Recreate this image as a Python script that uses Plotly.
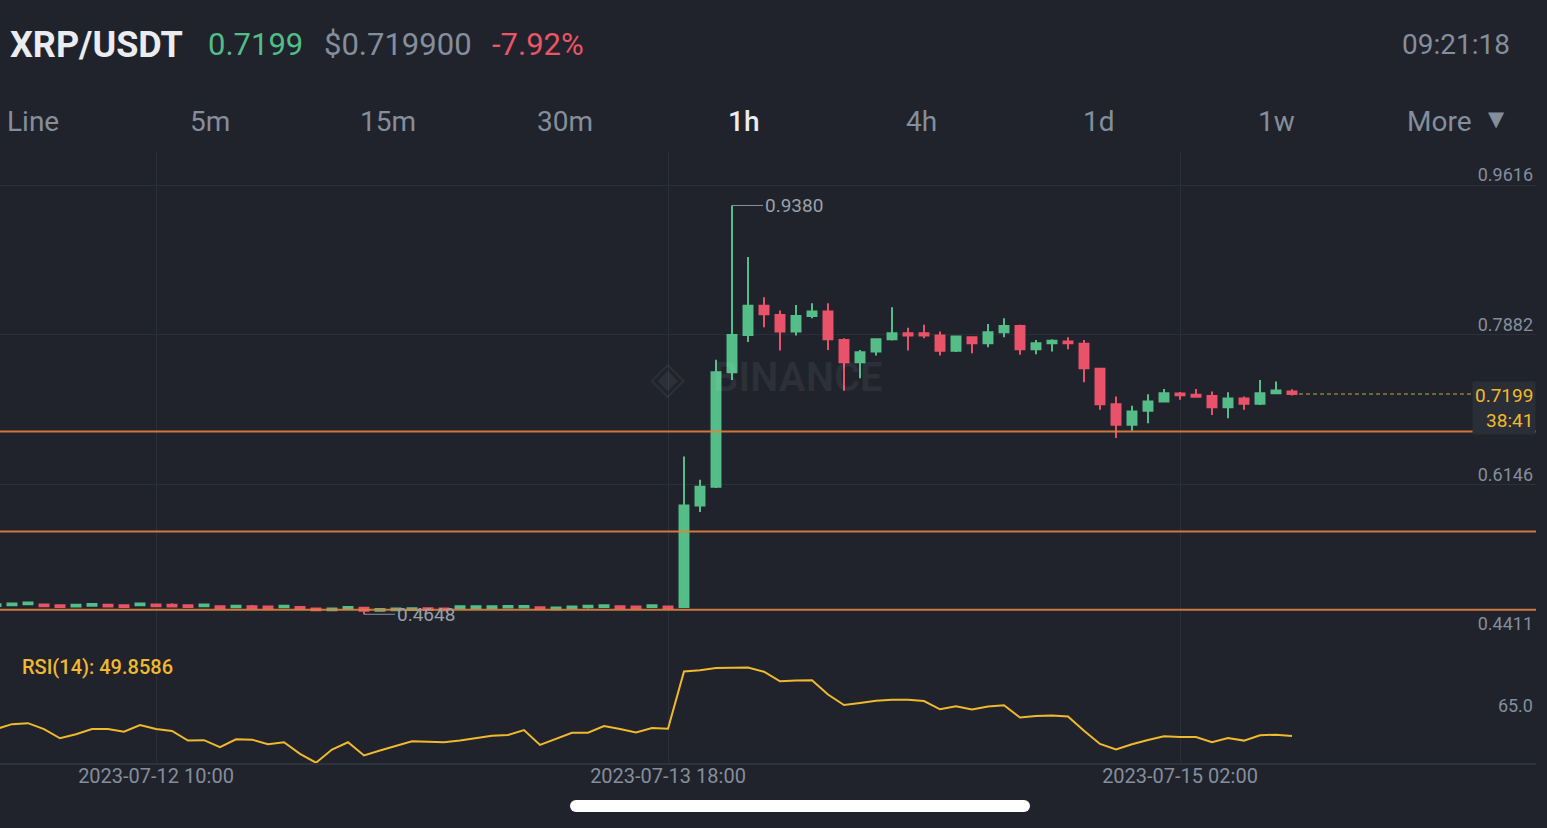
import pandas as pd
import plotly.graph_objects as go
from plotly.subplots import make_subplots

# hourly candles, 2023-07-12 00:00 .. 2023-07-15 09:00
times = pd.date_range("2023-07-12 00:00", periods=82, freq="h")

opens = [
    0.4745, 0.4752, 0.4763, 0.4760, 0.4753, 0.4737, 0.4748, 0.4757, 0.4753, 0.4752,
    0.4760, 0.4757, 0.4753, 0.4740, 0.4741, 0.4728, 0.4741, 0.4737, 0.4728, 0.4733,
    0.4714, 0.4694, 0.4713, 0.4723, 0.4690, 0.4694, 0.4698, 0.4718, 0.4714, 0.4721,
    0.4721, 0.4721, 0.4725, 0.4725, 0.4730, 0.4706, 0.4717, 0.4728, 0.4733, 0.4741,
    0.4737, 0.4733, 0.4737,
    0.4731, 0.5907, 0.6123, 0.7450, 0.7882, 0.8218, 0.8113, 0.7920, 0.8102, 0.8152,
    0.7824, 0.7566, 0.7689, 0.7832, 0.7902, 0.7902, 0.7874, 0.7697, 0.7855, 0.7786,
    0.7913, 0.7986, 0.7717, 0.7786, 0.7804, 0.7778, 0.7489, 0.7080, 0.6841, 0.7003,
    0.7110, 0.7203, 0.7188, 0.7176, 0.7045, 0.7145, 0.7084, 0.7207, 0.7226,
]
highs = [
    0.4769, 0.4776, 0.4787, 0.4764, 0.4757, 0.4761, 0.4772, 0.4761, 0.4757, 0.4776,
    0.4764, 0.4775, 0.4757, 0.4764, 0.4745, 0.4752, 0.4755, 0.4741, 0.4752, 0.4737,
    0.4718, 0.4718, 0.4737, 0.4728, 0.4714, 0.4718, 0.4722, 0.4722, 0.4718, 0.4745,
    0.4745, 0.4745, 0.4749, 0.4749, 0.4734, 0.4730, 0.4741, 0.4752, 0.4757, 0.4745,
    0.4741, 0.4757, 0.4741,
    0.6474, 0.6204, 0.7593, 0.9380, 0.8784, 0.8318, 0.8163, 0.8229, 0.8249, 0.8249,
    0.7844, 0.7708, 0.7836, 0.8202, 0.7966, 0.7998, 0.7920, 0.7870, 0.7860, 0.8009,
    0.8075, 0.7998, 0.7824, 0.7832, 0.7855, 0.7824, 0.7495, 0.7168, 0.7061, 0.7196,
    0.7257, 0.7222, 0.7257, 0.7226, 0.7219, 0.7168, 0.7361, 0.7342, 0.7254,
]
lows = [
    0.4741, 0.4748, 0.4759, 0.4736, 0.4729, 0.4733, 0.4744, 0.4733, 0.4729, 0.4748,
    0.4736, 0.4730, 0.4729, 0.4736, 0.4717, 0.4724, 0.4712, 0.4702, 0.4724, 0.4709,
    0.4690, 0.4690, 0.4709, 0.4648, 0.4686, 0.4690, 0.4694, 0.4694, 0.4690, 0.4717,
    0.4717, 0.4717, 0.4721, 0.4721, 0.4706, 0.4702, 0.4713, 0.4715, 0.4729, 0.4717,
    0.4713, 0.4729, 0.4713,
    0.4725, 0.5831, 0.6111, 0.7361, 0.7801, 0.7971, 0.7700, 0.7874, 0.8075, 0.7708,
    0.7234, 0.7381, 0.7642, 0.7816, 0.7700, 0.7844, 0.7642, 0.7685, 0.7670, 0.7740,
    0.7855, 0.7651, 0.7659, 0.7689, 0.7717, 0.7335, 0.7014, 0.6687, 0.6771, 0.6860,
    0.7099, 0.7130, 0.7157, 0.6956, 0.6918, 0.7014, 0.7069, 0.7196, 0.7180,
]
closes = [
    0.4765, 0.4772, 0.4783, 0.4740, 0.4733, 0.4757, 0.4768, 0.4737, 0.4733, 0.4772,
    0.4740, 0.4737, 0.4733, 0.4760, 0.4721, 0.4748, 0.4721, 0.4717, 0.4748, 0.4713,
    0.4694, 0.4714, 0.4733, 0.4689, 0.4710, 0.4714, 0.4718, 0.4698, 0.4694, 0.4741,
    0.4741, 0.4741, 0.4745, 0.4745, 0.4710, 0.4726, 0.4737, 0.4748, 0.4753, 0.4721,
    0.4717, 0.4753, 0.4717,
    0.5907, 0.6123, 0.7450, 0.7882, 0.8218, 0.8122, 0.7920, 0.8102, 0.8152, 0.7832,
    0.7566, 0.7682, 0.7832, 0.7902, 0.7874, 0.7874, 0.7697, 0.7862, 0.7786, 0.7913,
    0.7986, 0.7717, 0.7786, 0.7813, 0.7786, 0.7497, 0.7080, 0.6841, 0.6995, 0.7110,
    0.7207, 0.7184, 0.7165, 0.7045, 0.7145, 0.7084, 0.7207, 0.7238, 0.7199,
]
rsi = [
    54.9, 58.5, 59.2, 54.9, 48.2, 51.1, 54.9, 54.9, 53.0, 57.8, 54.9, 53.5,
    46.5, 46.8, 41.7, 47.5, 47.2, 43.9, 45.3, 36.9, 30.4, 40.0, 45.3, 35.7,
    39.3, 42.9, 46.0, 45.7, 45.3, 46.5, 48.2, 50.1, 50.6, 54.2, 43.4, 47.7,
    52.2, 52.2, 57.1, 54.9, 52.5, 55.6, 55.1,
    96.9, 97.7, 99.4, 99.8, 99.8,
    96.7, 89.7, 90.2, 90.5, 80.1, 72.4, 73.9, 75.6, 76.3, 76.3, 75.3, 69.3,
    71.5, 69.1, 71.3, 72.2, 63.3, 64.5, 64.8, 64.1, 53.7, 44.1, 40.0, 43.9,
    47.0, 49.6, 49.1, 49.1, 45.3, 48.4, 46.5, 50.4, 50.8, 49.8586,
]

price_ticks = [0.4411, 0.6146, 0.7882, 0.9616]
rsi_ticks = [65.0]
date_ticks = ["2023-07-12 10:00", "2023-07-13 18:00", "2023-07-15 02:00"]
level_lines = [0.6763, 0.5606, 0.4700]
last_price = 0.7199
high_mark = ("2023-07-13 22:00", 0.9380)
low_mark = ("2023-07-12 23:00", 0.4648)

BG = "#20232b"
GRID = "#2b2f38"
GRAY = "#848e9c"
GREEN = "#55bd88"
RED = "#e9536a"
YELLOW = "#f0b92e"
FONT = "Roboto"

# plot area in page pixels: x 0..1536, y 152..763
def px(x, y):
    return x / 1536, (763 - y) / 611

fig = make_subplots(rows=2, cols=1, shared_xaxes=True, vertical_spacing=0,
                    row_heights=[483, 128])

fig.add_trace(go.Candlestick(
    x=times, open=opens, high=highs, low=lows, close=closes,
    increasing=dict(line=dict(color=GREEN, width=2), fillcolor=GREEN),
    decreasing=dict(line=dict(color=RED, width=2), fillcolor=RED),
    whiskerwidth=0, showlegend=False, hoverinfo="skip"
), row=1, col=1)

fig.add_trace(go.Scatter(
    x=times, y=rsi, mode="lines", line=dict(color=YELLOW, width=2),
    showlegend=False, hoverinfo="skip"
), row=2, col=1)

# support / resistance levels
for lv in level_lines:
    fig.add_shape(type="line", xref="paper", yref="y", x0=0, x1=1, y0=lv, y1=lv,
                  line=dict(color="#e3813f", width=2), opacity=0.9, layer="above")

# last price dashed line + label
fig.add_shape(type="line", xref="x", yref="y", x0=times[-1], x1="2023-07-15 20:22",
              y0=last_price, y1=last_price,
              line=dict(color="#8f7d3a", width=1.5, dash="4px,3px"), layer="below")
fig.add_annotation(xref="paper", yref="y", x=1, y=last_price, xanchor="right", yanchor="top",
                   yshift=13, text="0.7199<br>38:41", align="right", showarrow=False,
                   bgcolor="#2a2e37", borderpad=2,
                   font=dict(family=FONT, size=19, color=YELLOW))

# high / low markers
for (t, v) in (high_mark, low_mark):
    fig.add_annotation(xref="x", yref="y", x=t, y=v, text=f"{v:.4f}", showarrow=True,
                       arrowhead=0, arrowwidth=1, arrowcolor="#8b929e", ax=31, ay=0,
                       xanchor="left", standoff=0,
                       font=dict(family=FONT, size=19, color="#9aa0aa"))

# header, tabs and other free text, placed by page pixel
def label(x, y, s, color, size, anchor="left", weight="normal", family=FONT):
    ax_, ay_ = px(x, y)
    fig.add_annotation(xref="paper", yref="paper", x=ax_, y=ay_, xanchor=anchor,
                       yanchor="middle", text=s, showarrow=False,
                       font=dict(family=family, size=size, color=color, weight=weight))

# watermark
label(668, 377, "◈", "rgba(255,255,255,0.06)", 46, anchor="center", family="DejaVu Sans")
label(798, 377, "BINANCE", "rgba(255,255,255,0.06)", 40, anchor="center", weight="bold")

# RSI caption
label(20, 667, "RSI(14): 49.8586", YELLOW, 20, weight=500)

label(8, 45, "XRP/USDT", "#eaecef", 36, weight="bold")
label(206, 45, "0.7199", "#52bd86", 31)
label(322, 45, "$0.719900", GRAY, 31)
label(490, 45, "-7.92%", "#ea5567", 31)
label(1512, 45, "09:21:18", GRAY, 28, anchor="right")

tabs = ["Line", "5m", "15m", "30m", "1h", "4h", "1d", "1w", "More"]
tab_x = [33, 210, 388, 565, 743, 921, 1099, 1276, 1439]
for name, x in zip(tabs, tab_x):
    if name == "1h":
        label(x, 121, name, "#eaecef", 28, anchor="center", weight=500)
    else:
        label(x, 121, name, GRAY, 28, anchor="center")
label(1496, 119, "▼", GRAY, 21, anchor="center", family="DejaVu Sans")

# home indicator bar
hx0, hy = px(576, 806)
hx1, _ = px(1024, 806)
fig.add_shape(type="rect", xref="paper", yref="paper", x0=hx0, x1=hx1, y0=-6, y1=6,
              ysizemode="pixel", yanchor=hy, line=dict(width=0), fillcolor="white")
for hx in (hx0, hx1):
    fig.add_shape(type="circle", xref="paper", yref="paper", xsizemode="pixel",
                  ysizemode="pixel", xanchor=hx, yanchor=hy, x0=-6, x1=6, y0=-6, y1=6,
                  line=dict(width=0), fillcolor="white")

axis_x = dict(type="date", range=["2023-07-12 00:15", "2023-07-16 00:15"], autorange=False,
              tickvals=date_ticks, tickformat="%Y-%m-%d %H:%M",
              showgrid=True, gridcolor=GRID, gridwidth=1, zeroline=False,
              rangeslider=dict(visible=False), ticks="",
              tickfont=dict(family=FONT, size=20, color=GRAY))
fig.update_xaxes(**axis_x)
fig.update_xaxes(showticklabels=False, row=1, col=1)
fig.update_xaxes(showline=True, linecolor="#2e323b", linewidth=2, ticklabelstandoff=-6,
                 row=2, col=1)

fig.update_yaxes(range=[0.4408, 0.9999], tickvals=price_ticks,
                 ticktext=[f"{v:.4f}" for v in price_ticks],
                 side="right", ticklabelposition="inside top", ticklabelshift=2,
                 showgrid=True, gridcolor=GRID, gridwidth=1, zeroline=False, ticks="",
                 tickfont=dict(family=FONT, size=18, color=GRAY), row=1, col=1)
fig.update_yaxes(range=[30.2, 123.4], tickvals=rsi_ticks, ticktext=["65.0"],
                 side="right", ticklabelposition="inside top", ticklabelshift=3,
                 showgrid=False, zeroline=False, ticks="",
                 tickfont=dict(family=FONT, size=18, color=GRAY), row=2, col=1)

fig.update_layout(
    width=1547, height=828,
    margin=dict(l=0, r=11, t=152, b=65),
    paper_bgcolor=BG, plot_bgcolor=BG,
    showlegend=False, boxgap=0.2,
    font=dict(family=FONT, color=GRAY),
)

fig.write_html("out.html", config={"displayModeBar": False},
               post_script="document.body.style.margin='0';")
